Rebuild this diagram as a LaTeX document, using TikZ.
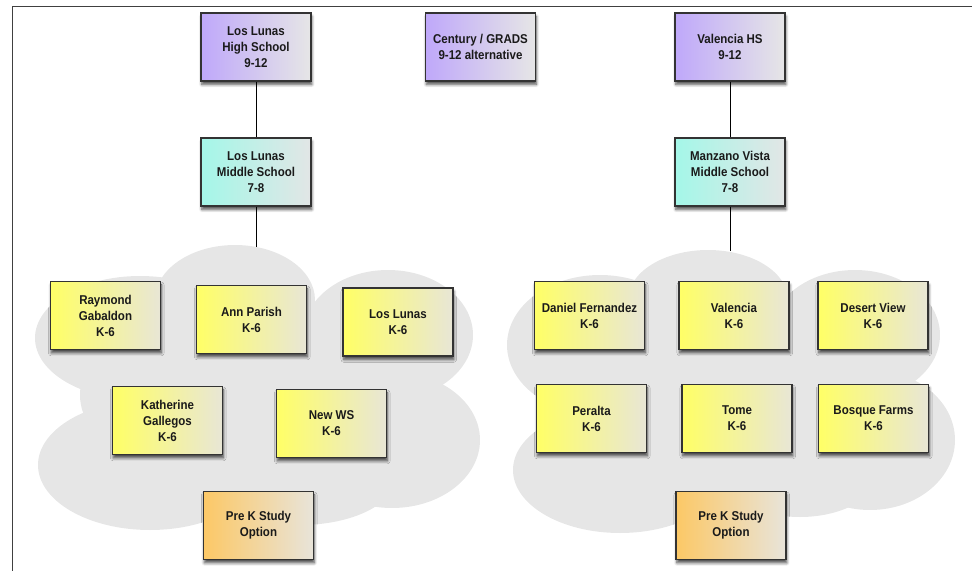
\documentclass[tikz,border=0pt]{standalone}
\usepackage{fontspec}
\setmainfont{Liberation Sans}
\newfontfamily\boxfont[FakeStretch=0.9]{Liberation Sans}
\usetikzlibrary{shadows.blur}
\definecolor{cloudgray}{HTML}{E6E6E6}
\definecolor{purpL}{HTML}{BFA8FA}
\definecolor{purpR}{HTML}{E6E6E6}
\definecolor{cyanL}{HTML}{A4F7E8}
\definecolor{cyanR}{HTML}{E2E6E6}
\definecolor{yelL}{HTML}{FFFF66}
\definecolor{yelR}{HTML}{E8E6D6}
\definecolor{orL}{HTML}{FCC866}
\definecolor{orR}{HTML}{E8E4DA}
\definecolor{txt}{HTML}{1A1A1A}
\tikzset{
  box/.style={draw=black!80, line width=0.8pt, minimum width=82.5pt, minimum height=51pt,
    inner sep=0pt, align=center, text=txt, font=\boxfont\fontsize{9.6}{12}\selectfont\bfseries,
    blur shadow={shadow xshift=0.6pt, shadow yshift=-2.6pt, shadow blur steps=6, shadow opacity=70}},
  purpbox/.style={box, left color=purpL, right color=purpR},
  cyanbox/.style={box, left color=cyanL, right color=cyanR},
  yelbox/.style={box, left color=yelL, right color=yelR},
  orbox/.style={box, left color=orL, right color=orR},
  conn/.style={draw=black, line width=0.7pt},
  frameline/.style={draw=black!75, line width=1.3pt}
}
\begin{document}
\begin{tikzpicture}[x=0.75pt,y=-0.75pt]
\useasboundingbox (0,0) rectangle (972,571);
% frame
\draw[frameline] (12.5,571) -- (12.5,6.5) -- (972,6.5);
% left cloud
\begin{scope}[fill=cloudgray]
\fill (140,338) ellipse [x radius=105, y radius=62];
\fill (235,300) ellipse [x radius=80, y radius=55];
\fill (388,335) ellipse [x radius=85, y radius=65];
\fill (392,440) ellipse [x radius=88, y radius=68];
\fill (150,465) ellipse [x radius=112, y radius=65];
\fill (300,478) ellipse [x radius=95, y radius=47];
\fill (255,395) ellipse [x radius=175, y radius=95];
% right cloud
\fill (600,345) ellipse [x radius=93, y radius=70];
\fill (708,300) ellipse [x radius=80, y radius=50];
\fill (855,335) ellipse [x radius=85, y radius=65];
\fill (870,440) ellipse [x radius=85, y radius=70];
\fill (620,470) ellipse [x radius=107, y radius=63];
\fill (800,470) ellipse [x radius=80, y radius=47];
\fill (730,400) ellipse [x radius=180, y radius=95];
\end{scope}
% top row
\node[purpbox] (llhs) at (256,47) {Los Lunas\\High School\\9-12};
\node[purpbox] (cent) at (480.5,47) {Century / GRADS\\9-12 alternative};
\node[purpbox] (vhs) at (730,47) {Valencia HS\\9-12};
% middle row
\node[cyanbox] (llms) at (256,172) {Los Lunas\\Middle School\\7-8};
\node[cyanbox] (mvms) at (730,172) {Manzano Vista\\Middle School\\7-8};
% connectors
\coordinate (c1) at (llms.south |- 0,247);
\coordinate (c2) at (mvms.south |- 0,251);
\draw[conn] (llhs) -- (llms);
\draw[conn] (llms) -- (c1);
\draw[conn] (vhs) -- (mvms);
\draw[conn] (mvms) -- (c2);
% left elementary
\node[yelbox] (rg) at (105.5,315.5) {Raymond\\Gabaldon\\K-6};
\node[yelbox] (ap) at (251.5,319.5) {Ann Parish\\K-6};
\node[yelbox] (ll) at (398,322) {Los Lunas\\K-6};
\node[yelbox] (kg) at (167.5,420.5) {Katherine\\Gallegos\\K-6};
\node[yelbox] (nws) at (331.5,423.5) {New WS\\K-6};
\node[orbox] (pk1) at (258.5,525.5) {Pre K Study\\Option};
% right elementary
\node[yelbox] (df) at (589.5,315.5) {Daniel Fernandez\\K-6};
\node[yelbox] (val) at (734,315.5) {Valencia\\K-6};
\node[yelbox] (dv) at (873,315.5) {Desert View\\K-6};
\node[yelbox] (per) at (591.5,418.5) {Peralta\\K-6};
\node[yelbox] (tome) at (737,418.5) {Tome\\K-6};
\node[yelbox] (bf) at (873.5,418.5) {Bosque Farms\\K-6};
\node[orbox] (pk2) at (731,525.5) {Pre K Study\\Option};
\end{tikzpicture}
\end{document}
